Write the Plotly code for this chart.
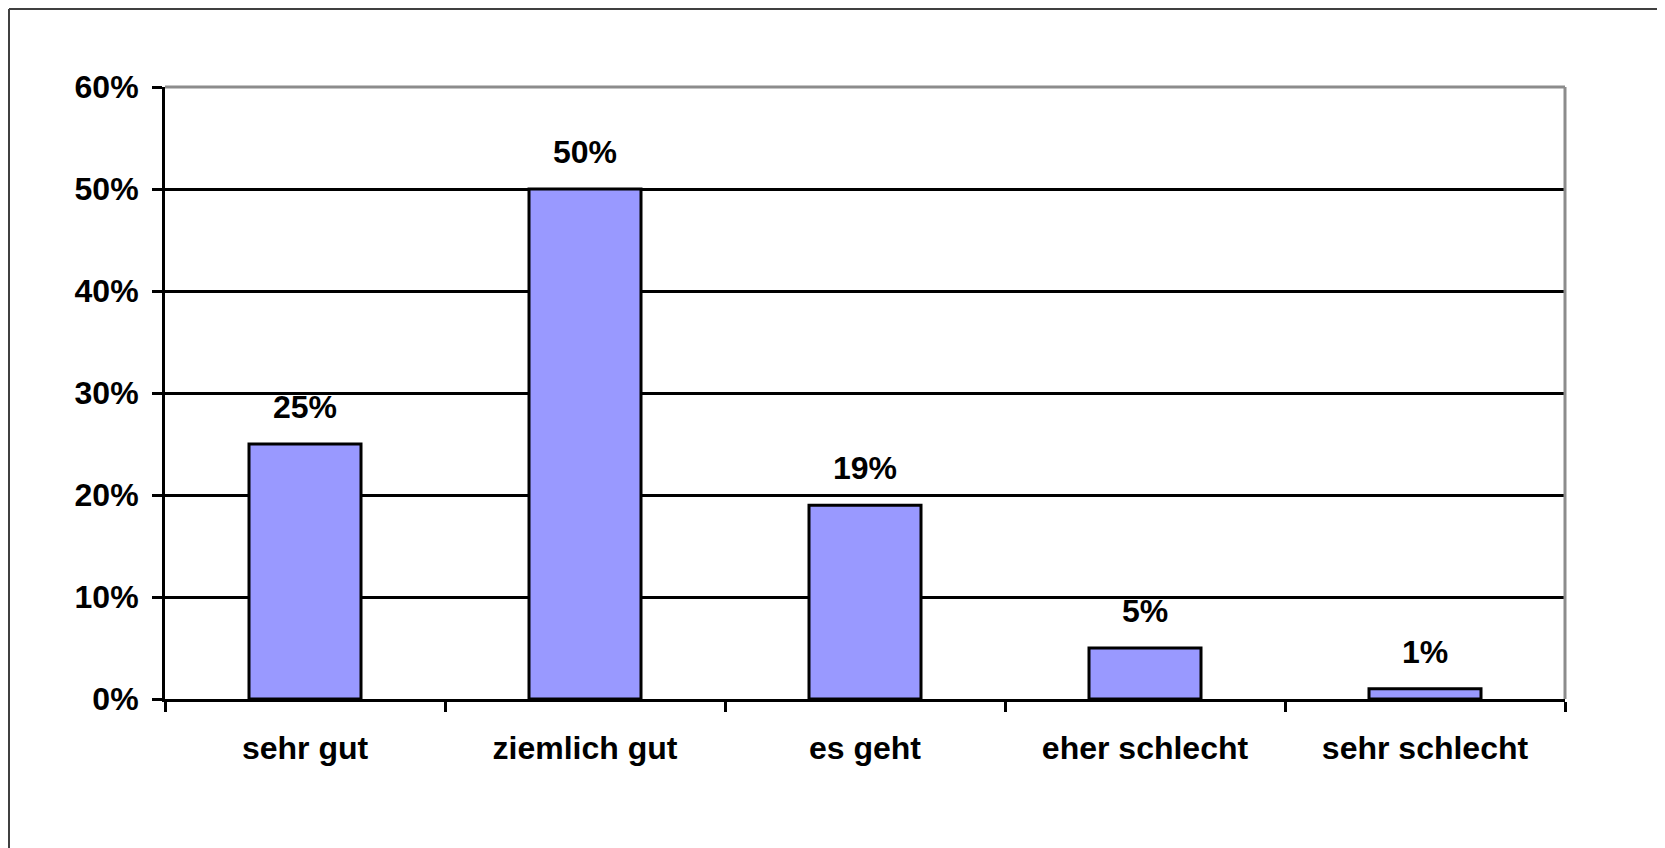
import plotly.graph_objects as go

categories = ["sehr gut", "ziemlich gut", "es geht", "eher schlecht", "sehr schlecht"]
values = [25, 50, 19, 5, 1]
value_labels = ["25%", "50%", "19%", "5%", "1%"]
y_ticks = [0, 10, 20, 30, 40, 50, 60]
y_tick_labels = ["0%", "10%", "20%", "30%", "40%", "50%", "60%"]

# page body has an 8px margin, so figure coords = screen coords - 8
W, H = 1657, 840
L, T = 157, 79
pw, ph = 1400, 612
R, B = W - L - pw, H - T - ph

FONT = "Liberation Sans, Arial, sans-serif"
fsize = 32

fig = go.Figure()
fig.add_trace(go.Bar(
    x=categories, y=values,
    marker=dict(color="#9999ff", line=dict(color="black", width=3)),
    hoverinfo="skip",
))

for c, v, t in zip(categories, values, value_labels):
    fig.add_annotation(x=c, y=v, xref="x", yref="y", text=f"<b>{t}</b>",
                       showarrow=False, yanchor="middle", yshift=37,
                       font=dict(family=FONT, size=fsize, color="black"))

def px_x(px):
    return (px - L) / pw

def px_y(py):
    return 1 - (py - T) / ph

# outer frame: only left and top edges are visible in the page
fig.add_shape(type="line", xref="paper", yref="paper",
              x0=px_x(1), x1=px_x(1), y0=px_y(H), y1=px_y(1),
              line=dict(color="#404040", width=2), layer="below")
fig.add_shape(type="line", xref="paper", yref="paper",
              x0=px_x(1), x1=px_x(W), y0=px_y(1), y1=px_y(1),
              line=dict(color="#404040", width=2), layer="below")
# gray top and right plot borders
fig.add_shape(type="line", xref="paper", yref="paper", x0=0, x1=1, y0=1, y1=1,
              line=dict(color="#8c8c8c", width=3), layer="above")
fig.add_shape(type="line", xref="paper", yref="paper", x0=1, x1=1, y0=0, y1=1,
              line=dict(color="#8c8c8c", width=3), layer="above")

fig.update_layout(
    width=W, height=H,
    margin=dict(l=L, r=R, t=T, b=B, autoexpand=False),
    paper_bgcolor="white", plot_bgcolor="white",
    showlegend=False,
    bargap=0.6,
    font=dict(family=FONT, size=fsize, color="black"),
    xaxis=dict(
        type="category", tickson="boundaries",
        ticks="outside", ticklen=10, tickwidth=3, tickcolor="black",
        showline=True, linecolor="black", linewidth=3,
        showgrid=False, ticklabelstandoff=19,
        tickfont=dict(family=FONT, size=fsize, color="black", weight="bold"),
        fixedrange=True,
    ),
    yaxis=dict(
        range=[0, 60], tickvals=y_ticks, ticktext=y_tick_labels,
        ticks="outside", ticklen=10, tickwidth=3, tickcolor="black",
        showline=True, linecolor="black", linewidth=3,
        showgrid=True, gridcolor="black", gridwidth=3,
        zeroline=False, ticklabelstandoff=7,
        tickfont=dict(family=FONT, size=fsize, color="black", weight="bold"),
        fixedrange=True,
    ),
)

fig.write_html("out.html")
